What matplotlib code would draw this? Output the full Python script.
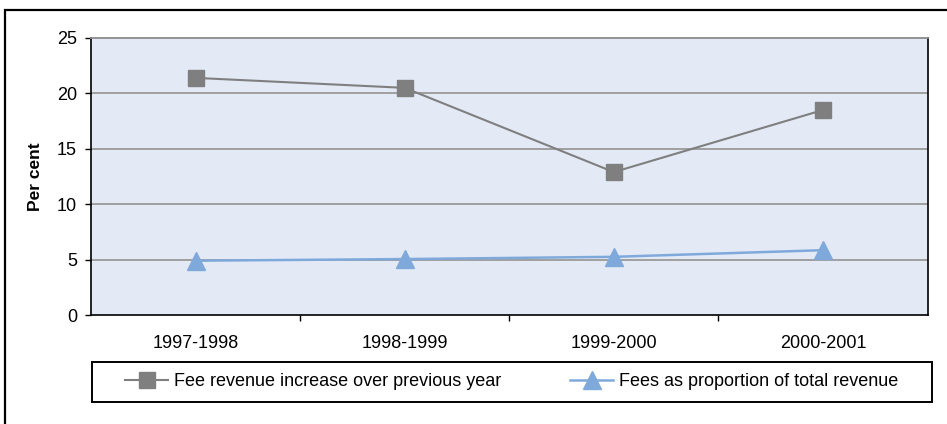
import matplotlib
matplotlib.use("Agg")
import matplotlib.pyplot as plt
from matplotlib.patches import Rectangle
from matplotlib.lines import Line2D

plt.rcParams["font.family"] = ["Liberation Sans", "DejaVu Sans"]

# Data
periods = ["1997-1998", "1998-1999", "1999-2000", "2000-2001"]
fee_increase = [21.4, 20.5, 12.9, 18.5]
fee_share = [4.9, 5.05, 5.25, 5.85]
series_names = ["Fee revenue increase over previous year",
                "Fees as proportion of total revenue"]
y_ticks = [0, 5, 10, 15, 20, 25]

W, H, DPI = 947, 424, 100
fig = plt.figure(figsize=(W / DPI, H / DPI), dpi=DPI)
fig.patch.set_facecolor("white")

# Outer chart frame (runs off the right and bottom edges)
fig.patches.append(Rectangle((5 / W, -0.1), 1.2, 1 - 10 / H + 0.1,
                             transform=fig.transFigure, fill=False,
                             edgecolor="black", linewidth=1.6, clip_on=False))

left, right, top, bottom = 91, 927.5, 38, 315
ax = fig.add_axes([left / W, 1 - bottom / H, (right - left) / W, (bottom - top) / H])
ax.set_facecolor("#E3EAF6")

x = list(range(len(periods)))
gray = "#7F7F7F"
blue = "#80A9DB"

ax.set_ylim(0, 25)
ax.set_xlim(-0.5, len(periods) - 0.5)
ax.set_yticks(y_ticks)
for v in y_ticks[1:-1]:
    ax.axhline(v, color="#9A9A9A", linewidth=1.3, zorder=1)

ax.plot(x, fee_increase, color=gray, linewidth=1.5, marker="s", markersize=11.5,
        markerfacecolor=gray, markeredgecolor=gray, zorder=3)
ax.plot(x, fee_share, color=blue, linewidth=1.8, marker="^", markersize=12.5,
        markerfacecolor=blue, markeredgecolor=blue, zorder=3)

# Spines
for s in ["left", "bottom", "right"]:
    ax.spines[s].set_color("black")
    ax.spines[s].set_linewidth(1.2)
ax.spines["top"].set_color("#8A8A8A")
ax.spines["top"].set_linewidth(1.3)

# Ticks
ax.tick_params(axis="y", direction="out", length=4, width=1, pad=6,
               labelsize=13, colors="black")
ax.set_xticks(x)
ax.set_xticklabels(periods)
ax.tick_params(axis="x", which="major", length=0, pad=14.5, labelsize=13)
ax.set_xticks([i + 0.5 for i in x[:-1]], minor=True)
ax.tick_params(axis="x", which="minor", direction="out", length=4, width=1)

fig.text(35 / W, 1 - 176.5 / H, "Per cent", rotation=90, ha="center", va="center",
         fontsize=12.5, fontweight="bold")

# Legend box
lg_left, lg_right, lg_top, lg_bottom = 92, 931.5, 361.7, 401.7
fig.patches.append(Rectangle((lg_left / W, 1 - lg_bottom / H),
                             (lg_right - lg_left) / W, (lg_bottom - lg_top) / H,
                             transform=fig.transFigure, fill=False,
                             edgecolor="black", linewidth=1.4))

h1 = Line2D([], [], color=gray, linewidth=1.5, marker="s", markersize=11.5,
            markerfacecolor=gray, markeredgecolor=gray)
h2 = Line2D([], [], color=blue, linewidth=1.8, marker="^", markersize=12.5,
            markerfacecolor=blue, markeredgecolor=blue)
ly = 1 - 381.5 / H
for handle, label, xs in [(h1, series_names[0], 125), (h2, series_names[1], 570)]:
    fig.legend([handle], [label], loc="center left",
               bbox_to_anchor=(xs / W, ly), bbox_transform=fig.transFigure,
               frameon=False, fontsize=13, handlelength=2.4,
               handletextpad=0.33, borderpad=0, borderaxespad=0)

fig.savefig("out.png", dpi=DPI)
